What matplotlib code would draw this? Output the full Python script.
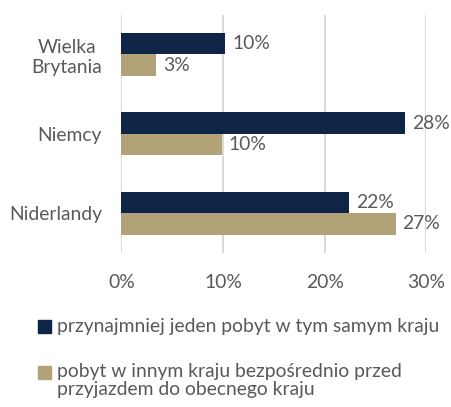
import matplotlib.pyplot as plt
import matplotlib.patches as mpatches
import numpy as np

categories = ["Wielka\nBrytania", "Niemcy", "Niderlandy"]
series_names = ["przynajmniej jeden pobyt w tym samym kraju",
                "pobyt w innym kraju bezpośrednio przed\nprzyjazdem do obecnego kraju"]
same_country = [10.2, 27.9, 22.4]
other_country = [3.4, 9.9, 27.0]
labels_same = ["10%", "28%", "22%"]
labels_other = ["3%", "10%", "27%"]
xticks = [0, 10, 20, 30]
xticklabels = ["0%", "10%", "20%", "30%"]

NAVY = "#0F2547"
TAN = "#B1A277"
TXT = "#595959"
FONT = "Lato"
FS = 13.9

plt.rcParams['font.family'] = [FONT, 'DejaVu Sans']

fig = plt.figure(figsize=(4.52, 4.07), dpi=100)
ax = fig.add_axes([0.2688, 0.379, 0.6737, 0.5846])

y = np.arange(len(categories))
h = 0.27
b1 = ax.barh(y - h / 2, same_country, height=h, color=NAVY, zorder=3)
b2 = ax.barh(y + h / 2, other_country, height=h, color=TAN, zorder=3)

for bars, labs in ((b1, labels_same), (b2, labels_other)):
    for bar, lab in zip(bars, labs):
        ax.annotate(lab, (bar.get_width(), bar.get_y() + bar.get_height() / 2),
                    xytext=(5, 0), textcoords="offset points", va="center", ha="left",
                    fontsize=FS, color=TXT)

ax.set_ylim(2.5, -0.5)
ax.set_xlim(0, 30)
ax.set_yticks(y)
ax.set_yticklabels(categories, fontsize=FS, color=TXT, linespacing=1.25,
                   multialignment="center")
ax.set_xticks(xticks)
ax.set_xticklabels(xticklabels, fontsize=FS, color=TXT)
ax.tick_params(axis="both", length=0)
ax.tick_params(axis="y", pad=14)
ax.tick_params(axis="x", pad=15)
for s in ax.spines.values():
    s.set_visible(False)
ax.xaxis.grid(True, color="#D0D0D0", linewidth=1.1, zorder=0)
ax.set_axisbelow(True)

# legend (manual)
W, H = 452, 407
def fy(py):
    return 1 - py / H
fig.patches.append(mpatches.Rectangle((38 / W, fy(333)), 13 / W, 13 / H,
                                      transform=fig.transFigure, color=NAVY))
fig.text(57 / W, fy(326.5), series_names[0], fontsize=FS, color=TXT, va="center", ha="left")
fig.patches.append(mpatches.Rectangle((38 / W, fy(378.5)), 13 / W, 13 / H,
                                      transform=fig.transFigure, color=TAN))
line_a, line_b = series_names[1].split("\n")
fig.text(57 / W, fy(372), line_a, fontsize=FS, color=TXT, va="center", ha="left")
fig.text(57 / W, fy(389), line_b, fontsize=FS, color=TXT, va="center", ha="left")

fig.savefig("out.png", dpi=100, facecolor="white")
